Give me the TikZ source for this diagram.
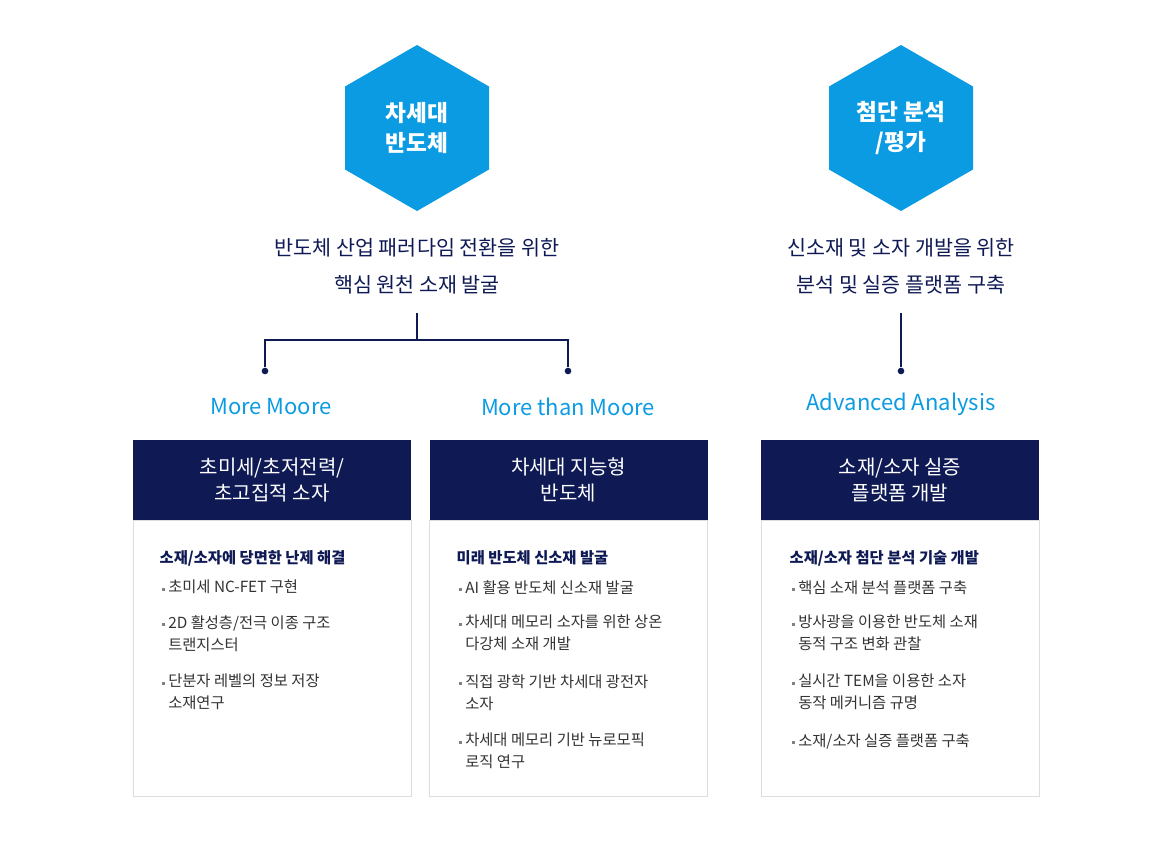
\documentclass[tikz,border=0pt]{standalone}
\usepackage{fontspec}
\setmainfont{Noto Sans CJK KR}
\definecolor{hexblue}{HTML}{0B9BE2}
\definecolor{navy}{HTML}{0F1A55}
\definecolor{txt}{HTML}{333333}
\definecolor{bord}{HTML}{DDDDDD}
\begin{document}
\begin{tikzpicture}[x=0.75pt,y=-0.75pt,
 hexa/.style={fill=hexblue,draw=none},
 hextxt/.style={text=white,font=\fontsize{17}{22}\selectfont\bfseries,align=center},
 sub/.style={text=navy,font=\fontsize{15.5}{28}\selectfont,align=center},
 lbl/.style={text=hexblue,font=\fontsize{16.5}{20}\selectfont},
 head/.style={fill=navy,text=white,font=\fontsize{15}{20}\selectfont,align=center,minimum width=278*0.75pt,minimum height=80*0.75pt,inner sep=0},
 body/.style={draw=bord,fill=white,minimum width=278*0.75pt,minimum height=276*0.75pt,inner sep=0},
 btitle/.style={text=navy,font=\fontsize{11.5}{15}\selectfont\bfseries,anchor=west},
 item/.style={text=txt,font=\fontsize{11.5}{16.5}\selectfont,anchor=north west,align=left,inner sep=0},
 dot/.style={circle,fill=navy,inner sep=0,minimum size=5pt},
 conn/.style={draw=navy,line width=0.8pt}]
\useasboundingbox (0,0) rectangle (1173,843);
\foreach \cx/\nm in {417/hl,901/hr}{
 \fill[hexa] (\cx,45) -- (\cx+72,86.5) -- (\cx+72,169.5) -- (\cx,211) -- (\cx-72,169.5) -- (\cx-72,86.5) -- cycle;
 \coordinate (\nm) at (\cx,128);}
\node[hextxt] at (hl) {차세대\\반도체};
\node[hextxt] at (hr) {첨단 분석\\/평가};
\node[sub] (sl) at (417,266) {반도체 산업 패러다임 전환을 위한\\핵심 원천 소재 발굴};
\node[sub] (sr) at (901,266) {신소재 및 소자 개발을 위한\\분석 및 실증 플랫폼 구축};
\coordinate (t1) at (417,313); \coordinate (t2) at (417,340);
\coordinate (r1) at (901,313);
\node[dot] (d1) at (265,371) {}; \node[dot] (d2) at (568,371) {}; \node[dot] (d3) at (901,371) {};
\draw[conn] (t1) -- (t2) -| (d1); \draw[conn] (t2) -| (d2); \draw[conn] (r1) -- (d3);
\node[lbl] (l1) at (271,407) {More Moore};
\node[lbl] (l2) at (568,407) {More than Moore};
\node[lbl] (l3) at (901,404) {Advanced Analysis};
\node[head] (h1) at (272,480) {초미세/초저전력/\\초고집적 소자};
\node[head] (h2) at (568.5,480) {차세대 지능형\\반도체};
\node[head] (h3) at (900,480) {소재/소자 실증\\플랫폼 개발};
\node[body] (b1) at (272,658) {};
\node[body] (b2) at (568.5,658) {};
\node[body] (b3) at (900,658) {};
\newcommand{\itm}[3]{\node[item] at (#1+8,#2) {#3}; \fill[gray] (#1+2,#2+8) rectangle +(2.5,2.5);}
% box 1
\node[btitle] at (155,558) {소재/소자에 당면한 난제 해결};
\itm{160}{580}{초미세 NC-FET 구현}
\itm{160}{615}{2D 활성층/전극 이종 구조\\트랜지스터}
\itm{160}{674}{단분자 레벨의 정보 저장\\소재연구}
% box 2
\node[btitle] at (452,558) {미래 반도체 신소재 발굴};
\itm{457}{580}{AI 활용 반도체 신소재 발굴}
\itm{457}{615}{차세대 메모리 소자를 위한 상온\\다강체 소재 개발}
\itm{457}{674}{직접 광학 기반 차세대 광전자\\소자}
\itm{457}{733}{차세대 메모리 기반 뉴로모픽\\로직 연구}
% box 3
\node[btitle] at (785,558) {소재/소자 첨단 분석 기술 개발};
\itm{790}{580}{핵심 소재 분석 플랫폼 구축}
\itm{790}{615}{방사광을 이용한 반도체 소재\\동적 구조 변화 관찰}
\itm{790}{674}{실시간 TEM을 이용한 소자\\동작 메커니즘 규명}
\itm{790}{733}{소재/소자 실증 플랫폼 구축}
\end{tikzpicture}
\end{document}
